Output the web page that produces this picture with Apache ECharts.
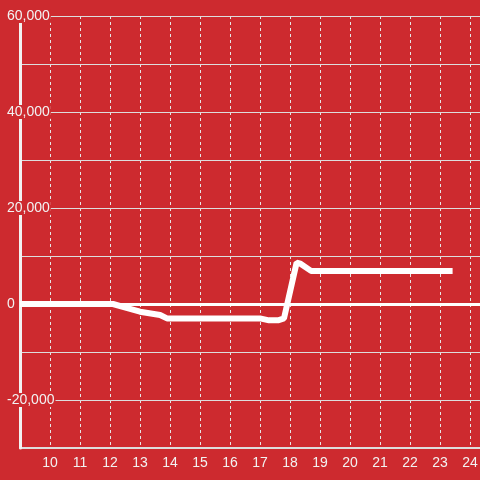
<!DOCTYPE html>
<html>
<head>
<meta charset="utf-8">
<script src="https://cdn.jsdelivr.net/npm/echarts@6/dist/echarts.min.js"></script>
<style>html,body{margin:0;padding:0;background:#cd2a2f;}#c{width:480px;height:480px;}</style>
</head>
<body>
<div id="c"></div>
<script>
// Data
const xValues = [9, 12, 12.1, 12.67, 13.0, 13.67, 13.9, 17.0, 17.3, 17.6, 17.8, 18.22, 18.35, 18.7, 23.42];
const yValues = [0, 0, 0, -1000, -1600, -2300, -3000, -3000, -3400, -3400, -3000, 8600, 8400, 6900, 6900];
const xTickLabels = [10, 11, 12, 13, 14, 15, 16, 17, 18, 19, 20, 21, 22, 23, 24];
const yTickLabels = [-20000, 0, 20000, 40000, 60000];

const points = xValues.map((x, i) => [x, yValues[i]]);
const chart = echarts.init(document.getElementById('c'));
const fmt = n => n.toLocaleString('en-US');
chart.setOption({
  backgroundColor: '#cd2a2f',
  animation: false,
  grid: { left: 20, right: 0, top: 16, bottom: 32, containLabel: false, outerBoundsMode: 'none' },
  xAxis: {
    type: 'value', min: 9, max: 24.3333, interval: 1,
    axisLine: { show: true, onZero: false, lineStyle: { color: '#dddddd', width: 2 } },
    axisTick: { show: false },
    axisLabel: {
      color: '#f2f2f2', fontSize: 14, fontFamily: 'Liberation Sans', margin: 8,
      formatter: v => xTickLabels.includes(v) ? String(v) : ''
    },
    splitLine: { show: true, lineStyle: { color: '#e6e6e6', width: 1, type: [3, 3] } }
  },
  yAxis: {
    type: 'value', min: -30000, max: 60000, interval: 10000, z: 3,
    axisLine: { show: true, onZero: false, lineStyle: { color: '#f2f2f2', width: 3 } },
    axisTick: { show: false },
    axisLabel: {
      color: '#f2f2f2', fontSize: 14, fontFamily: 'Liberation Sans', margin: 13,
      align: 'left', backgroundColor: '#cd2a2f', padding: [0, 1, 0, 0],
      formatter: v => yTickLabels.includes(v) ? fmt(v) : ''
    },
    splitLine: { show: true, lineStyle: { color: '#dddddd', width: 1 } }
  },
  series: [{
    type: 'line',
    data: points,
    showSymbol: false,
    symbol: 'none',
    lineStyle: { color: '#ffffff', width: 6 },
    markLine: {
      silent: true, symbol: 'none', label: { show: false },
      lineStyle: { color: '#ffffff', width: 3, type: 'solid' },
      data: [{ yAxis: 0 }]
    }
  }]
});
</script>
</body>
</html>
